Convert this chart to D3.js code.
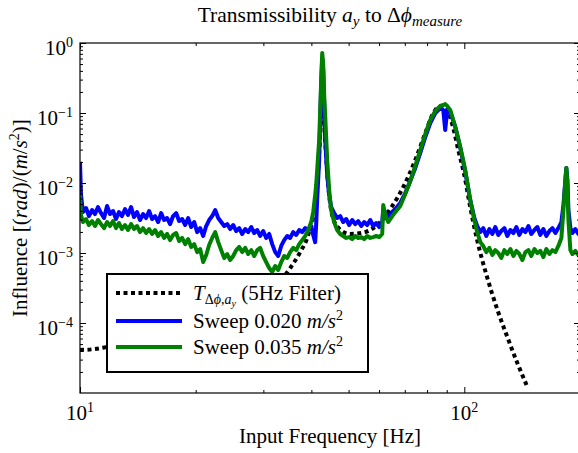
<!DOCTYPE html>
<html>
<head>
<meta charset="utf-8">
<script src="https://cdn.jsdelivr.net/npm/d3@7"></script>
<style>
body { margin: 0; background: #fff; }
#vis { width: 578px; height: 453px; }
text { font-family: "Liberation Serif", "Times New Roman", serif; fill: #000; }
</style>
</head>
<body>
<div id="vis"></div>
<script>
// measurement grid (Hz), shared by both sweeps
var freqs = [10.00, 10.06, 10.18,
    10.37, 10.55, 10.75, 10.94, 11.14, 11.34, 11.55, 11.76, 11.97, 12.19,
    12.41, 12.63, 12.86, 13.10, 13.33, 13.58, 13.82, 14.07, 14.33, 14.59,
    14.86, 15.13, 15.40, 15.68, 15.97, 16.26, 16.55, 16.85, 17.16, 17.47,
    17.79, 18.11, 18.44, 18.78, 19.12, 19.47, 19.82, 20.18, 20.54, 20.92,
    21.30, 21.68, 22.08, 22.48, 22.89, 23.30, 23.73, 24.16, 24.59, 25.04,
    25.50, 25.96, 26.43, 26.91, 27.40, 27.90, 28.40, 28.92, 29.43, 29.97,
    30.51, 31.07, 31.63, 32.21, 32.79, 33.39, 33.99, 34.61, 35.23, 35.87,
    36.53, 37.19, 37.86, 38.55, 39.25, 39.96,
    40.44, 40.92, 41.16, 41.41, 41.91, 42.17, 42.42, 42.68, 42.94, 43.19, 43.45, 43.98, 44.50, 45.03, 45.85,
    46.68, 47.54, 48.40, 49.28, 50.17, 51.08, 52.01, 52.95, 53.92, 54.89, 55.89, 56.91, 57.94, 58.99, 60.06, 61.15,
    61.52, 62.26, 63.38, 64.93, 66.50, 68.13, 70.21, 72.34, 74.55, 76.81, 79.16, 81.55, 84.04, 86.60, 88.16,
    89.19, 90.26, 91.94, 94.74, 97.63, 100.6, 103.6, 106.2, 108.0, 110.1,
    112.0, 114.1, 116.2, 118.3, 120.4, 122.6, 124.8, 127.1, 129.4, 131.8, 134.2, 136.6, 139.1, 141.6,
    144.2, 146.8, 149.4, 152.2, 154.9, 157.7, 160.6, 163.5, 166.5, 169.5, 172.6, 175.7, 178.9,
    181.1, 183.2, 184.3, 185.5, 186.6, 188.8, 191.1, 194.5, 198.1, 200.0];

var sweep020 = [2.00e-2, 6.74e-3, 3.85e-3,
    4.39e-3, 3.37e-3, 4.11e-3, 3.60e-3, 4.54e-3, 3.72e-3, 3.16e-3, 4.69e-3, 3.60e-3, 3.98e-3,
    3.06e-3, 3.85e-3, 3.37e-3, 4.25e-3, 3.49e-3, 4.54e-3, 3.26e-3, 3.85e-3, 2.96e-3, 3.60e-3,
    3.16e-3, 3.98e-3, 3.06e-3, 3.37e-3, 2.77e-3, 3.72e-3, 2.96e-3, 3.16e-3, 2.59e-3, 3.37e-3,
    3.72e-3, 2.86e-3, 3.06e-3, 2.51e-3, 3.16e-3, 2.35e-3, 2.77e-3, 1.99e-3, 2.27e-3, 1.75e-3,
    2.43e-3, 2.96e-3, 3.37e-3, 4.11e-3, 3.16e-3, 2.77e-3, 2.43e-3, 2.59e-3, 2.20e-3, 2.51e-3,
    2.06e-3, 2.27e-3, 1.87e-3, 2.20e-3, 1.99e-3, 2.35e-3, 1.93e-3, 2.13e-3, 1.75e-3, 2.06e-3,
    1.64e-3, 1.87e-3, 1.34e-3, 1.03e-3, 9.06e-4, 1.26e-3, 1.53e-3, 1.75e-3, 1.64e-3, 1.99e-3,
    1.81e-3, 2.13e-3, 1.99e-3, 2.27e-3, 2.13e-3, 2.43e-3,
    1.81e-3, 1.43e-3, 2.51e-3, 5.72e-3, 2.13e-2, 7.94e-2, 0.251, 0.61, 0.411, 0.130, 4.11e-2, 1.30e-2, 6.74e-3, 4.54e-3, 3.72e-3,
    3.16e-3, 3.37e-3, 2.77e-3, 3.06e-3, 2.51e-3, 2.96e-3, 2.59e-3, 2.86e-3, 2.43e-3, 2.77e-3, 2.51e-3, 2.96e-3, 2.43e-3, 2.68e-3, 2.35e-3, 2.77e-3,
    4.11e-3, 3.85e-3, 3.16e-3, 3.85e-3, 4.39e-3, 5.18e-3, 7.19e-3, 1.07e-2, 1.64e-2, 2.70e-2, 4.54e-2, 7.19e-2, 0.100, 0.118, 0.110,
    5.72e-2, 0.110, 0.103, 6.31e-2, 3.16e-2, 1.43e-2, 5.72e-3, 3.16e-3, 2.43e-3, 1.99e-3,
    2.27e-3, 1.75e-3, 2.20e-3, 1.87e-3, 2.35e-3, 1.81e-3, 2.06e-3, 2.27e-3, 1.75e-3, 2.13e-3, 1.93e-3, 2.35e-3, 1.81e-3, 2.20e-3,
    1.99e-3, 2.43e-3, 1.87e-3, 2.13e-3, 2.35e-3, 1.81e-3, 2.20e-3, 1.75e-3, 2.06e-3, 2.27e-3, 1.93e-3, 2.27e-3, 2.77e-3,
    4.85e-3, 1.10e-2, 1.64e-2, 1.10e-2, 4.11e-3, 2.27e-3, 1.93e-3, 2.20e-3, 1.87e-3, 2.06e-3];

var sweep035 = [6.74e-3, 3.49e-3, 2.77e-3,
    3.06e-3, 2.51e-3, 2.86e-3, 2.43e-3, 2.96e-3, 2.59e-3, 2.27e-3, 2.77e-3, 2.43e-3, 2.86e-3,
    2.27e-3, 2.68e-3, 2.20e-3, 2.51e-3, 2.13e-3, 2.59e-3, 2.20e-3, 2.43e-3, 1.99e-3, 2.27e-3,
    1.93e-3, 2.20e-3, 1.87e-3, 2.13e-3, 1.75e-3, 1.99e-3, 1.64e-3, 1.87e-3, 1.53e-3, 1.81e-3,
    1.93e-3, 1.48e-3, 1.64e-3, 1.34e-3, 1.58e-3, 1.22e-3, 1.34e-3, 1.03e-3, 1.14e-3, 7.43e-4,
    9.36e-4, 1.30e-3, 1.64e-3, 1.99e-3, 1.43e-3, 1.10e-3, 8.48e-4, 9.67e-4, 7.94e-4, 9.06e-4,
    1.10e-3, 1.22e-3, 1.03e-3, 1.18e-3, 9.67e-4, 1.10e-3, 9.06e-4, 1.10e-3, 1.18e-3, 9.06e-4,
    7.43e-4, 6.10e-4, 5.35e-4, 6.52e-4, 5.72e-4, 7.43e-4, 9.06e-4, 8.48e-4, 1.03e-3, 1.18e-3,
    1.10e-3, 1.34e-3, 1.53e-3, 1.75e-3, 2.13e-3, 2.77e-3,
    3.85e-3, 6.74e-3, 9.36e-3, 1.53e-2, 4.11e-2, 0.110, 0.296, 0.72, 0.485, 0.181, 0.0937, 2.13e-2, 7.94e-3, 4.11e-3, 2.77e-3,
    2.13e-3, 1.87e-3, 1.75e-3, 1.64e-3, 1.69e-3, 1.58e-3, 1.75e-3, 1.64e-3, 1.69e-3, 1.58e-3, 1.75e-3, 1.64e-3, 1.69e-3, 1.75e-3, 1.69e-3, 1.87e-3,
    4.85e-3, 3.49e-3, 2.77e-3, 3.37e-3, 3.98e-3, 4.69e-3, 6.96e-3, 1.07e-2, 1.75e-2, 2.96e-2, 5.01e-2, 7.94e-2, 0.107, 0.126, 0.130,
    0.134, 0.126, 0.110, 6.31e-2, 3.26e-2, 1.53e-2, 5.72e-3, 2.96e-3, 1.99e-3, 1.43e-3,
    1.26e-3, 1.03e-3, 1.18e-3, 9.36e-4, 1.10e-3, 1.00e-3, 8.48e-4, 1.10e-3, 9.67e-4, 1.14e-3, 9.06e-4, 1.07e-3, 9.67e-4, 7.94e-4,
    1.03e-3, 1.10e-3, 9.06e-4, 1.14e-3, 1.00e-3, 1.07e-3, 8.76e-4, 1.14e-3, 9.67e-4, 1.10e-3, 1.03e-3, 1.26e-3, 1.64e-3,
    4.11e-3, 1.10e-2, 1.64e-2, 9.36e-3, 2.96e-3, 1.10e-3, 9.67e-4, 1.07e-3, 9.36e-4, 1.03e-3];

// 5 Hz filter model
var filterFreqs = [10.0, 10.94, 11.76, 15.22, 20.54, 26.10, 31.25, 35.23, 37.41, 39.25,
    40.68, 41.66, 42.42, 42.94, 43.45, 44.24, 45.30, 47.11, 50.48, 55.22,
    60.43, 64.93, 69.37, 74.55, 79.16, 82.56, 85.57, 88.16, 90.80, 93.60,
    96.45, 100.0, 103.6, 108.0, 114.6, 122.0, 129.4, 137.4, 145.9];
var filterVals = [4.11e-5, 4.25e-5, 4.54e-5, 5.72e-5, 8.48e-5, 1.44e-4, 2.77e-4, 6.10e-4, 1.03e-3, 1.81e-3,
    4.11e-3, 1.53e-2, 7.94e-2, 0.130, 4.11e-2, 9.36e-3, 3.49e-3, 2.27e-3, 1.87e-3, 1.99e-3,
    2.77e-3, 4.69e-3, 8.76e-3, 2.13e-2, 5.18e-2, 9.37e-2, 0.122, 0.126, 0.103, 6.10e-2,
    2.96e-2, 1.30e-2, 4.54e-3, 1.53e-3, 4.54e-4, 1.53e-4, 6.31e-5, 2.68e-5, 1.22e-5];

var xMajor = [10, 100];
var xMinor = [20, 30, 40, 50, 60, 70, 80, 90, 200];
var yMajor = [1e-4, 1e-3, 1e-2, 1e-1, 1];
var yMinor = [];
[1e-5, 1e-4, 1e-3, 1e-2, 1e-1].forEach(function(d) {
    for (var k = 2; k <= 9; k++) yMinor.push(d * k);
});

var margin = { top: 43, left: 80 };
var width = 500, height = 350;

var svg = d3.select('#vis')
    .append('svg')
    .attr('width', 578)
    .attr('height', 453);

var g = svg.append('g')
    .attr('transform', 'translate(' + margin.left + ',' + margin.top + ')');

var x_scale = d3.scaleLog().domain([10, 200]).range([0, width]);
var y_scale = d3.scaleLog().domain([1e-5, 1]).range([height, 0]);

g.append('clipPath').attr('id', 'clip')
    .append('rect').attr('width', width).attr('height', height);

var line = d3.line()
    .x(function(d) { return x_scale(d[0]); })
    .y(function(d) { return y_scale(d[1]); });

var plot = g.append('g').attr('clip-path', 'url(#clip)');

plot.append('path')
    .datum(d3.zip(filterFreqs, filterVals))
    .attr('d', line.curve(d3.curveMonotoneX))
    .attr('fill', 'none')
    .attr('stroke', '#000')
    .attr('stroke-width', 4)
    .attr('stroke-dasharray', '4,3.5');

line.curve(d3.curveLinear);

plot.append('path')
    .datum(d3.zip(freqs, sweep020))
    .attr('d', line)
    .attr('fill', 'none')
    .attr('stroke', '#0000ff')
    .attr('stroke-width', 4)
    .attr('stroke-linejoin', 'round');

plot.append('path')
    .datum(d3.zip(freqs, sweep035))
    .attr('d', line)
    .attr('fill', 'none')
    .attr('stroke', '#008000')
    .attr('stroke-width', 4)
    .attr('stroke-linejoin', 'round');

// ticks on all four sides, pointing inward
function addAxis(axis, tx, ty) {
    var a = g.append('g')
        .attr('transform', 'translate(' + tx + ',' + ty + ')')
        .call(axis);
    a.select('.domain').remove();
    a.selectAll('text').remove();
    a.selectAll('line').attr('stroke', '#000').attr('stroke-width', 1);
}
addAxis(d3.axisBottom(x_scale).tickValues(xMajor).tickSize(-6), 0, height);
addAxis(d3.axisBottom(x_scale).tickValues(xMinor).tickSize(-3), 0, height);
addAxis(d3.axisTop(x_scale).tickValues(xMajor).tickSize(-6), 0, 0);
addAxis(d3.axisTop(x_scale).tickValues(xMinor).tickSize(-3), 0, 0);
addAxis(d3.axisLeft(y_scale).tickValues(yMajor).tickSize(-6), 0, 0);
addAxis(d3.axisLeft(y_scale).tickValues(yMinor).tickSize(-3), 0, 0);
addAxis(d3.axisRight(y_scale).tickValues(yMajor).tickSize(-6), width, 0);
addAxis(d3.axisRight(y_scale).tickValues(yMinor).tickSize(-3), width, 0);

g.append('rect')
    .attr('width', width)
    .attr('height', height)
    .attr('fill', 'none')
    .attr('stroke', '#000')
    .attr('stroke-width', 1.2);

function powLabel(t, exp) {
    t.append('tspan').text('10');
    t.append('tspan').attr('dy', -8).attr('font-size', 14)
        .text(exp < 0 ? '\u2212' + (-exp) : String(exp));
}

xMajor.forEach(function(v) {
    var t = g.append('text')
        .attr('x', x_scale(v))
        .attr('y', height + 27)
        .attr('text-anchor', 'middle')
        .attr('font-size', 21);
    powLabel(t, Math.round(Math.log10(v)));
});

yMajor.forEach(function(v) {
    var t = g.append('text')
        .attr('x', -7)
        .attr('y', y_scale(v) + 12)
        .attr('text-anchor', 'end')
        .attr('font-size', 21);
    powLabel(t, Math.round(Math.log10(v)));
});

// title
var title = svg.append('text')
    .attr('x', 330)
    .attr('y', 22)
    .attr('text-anchor', 'middle')
    .attr('font-size', 21.5);
title.append('tspan').text('Transmissibility ');
title.append('tspan').attr('font-style', 'italic').text('a');
title.append('tspan').attr('font-style', 'italic').attr('font-size', 15).attr('dy', 4).text('y');
title.append('tspan').attr('dy', -4).text(' to \u0394');
title.append('tspan').attr('font-style', 'italic').text('\u03d5');
title.append('tspan').attr('font-style', 'italic').attr('font-size', 15).attr('dy', 4).text('measure');

// axis labels
svg.append('text')
    .attr('x', 330)
    .attr('y', 443)
    .attr('text-anchor', 'middle')
    .attr('font-size', 21)
    .text('Input Frequency [Hz]');

var ylab = svg.append('text')
    .attr('transform', 'translate(27,218) rotate(-90)')
    .attr('text-anchor', 'middle')
    .attr('font-size', 21);
ylab.append('tspan').text('Influence [(');
ylab.append('tspan').attr('font-style', 'italic').text('rad');
ylab.append('tspan').text(')/(');
ylab.append('tspan').attr('font-style', 'italic').text('m');
ylab.append('tspan').text('/');
ylab.append('tspan').attr('font-style', 'italic').text('s');
ylab.append('tspan').attr('font-size', 14).attr('dy', -8).text('2');
ylab.append('tspan').attr('dy', 8).text(')]');

// legend
var legend = svg.append('g').attr('transform', 'translate(107,274)');
legend.append('rect')
    .attr('width', 261)
    .attr('height', 98)
    .attr('fill', '#fff')
    .attr('stroke', '#000')
    .attr('stroke-width', 2);

var rows = [19, 47, 73];
legend.append('line')
    .attr('x1', 9).attr('x2', 75).attr('y1', rows[0]).attr('y2', rows[0])
    .attr('stroke', '#000').attr('stroke-width', 4).attr('stroke-dasharray', '4,3.5');
legend.append('line')
    .attr('x1', 9).attr('x2', 75).attr('y1', rows[1]).attr('y2', rows[1])
    .attr('stroke', '#0000ff').attr('stroke-width', 4);
legend.append('line')
    .attr('x1', 9).attr('x2', 75).attr('y1', rows[2]).attr('y2', rows[2])
    .attr('stroke', '#008000').attr('stroke-width', 4);

var l1 = legend.append('text').attr('x', 86).attr('y', rows[0] + 7).attr('font-size', 21);
l1.append('tspan').attr('font-style', 'italic').text('T');
l1.append('tspan').attr('font-size', 14).attr('dy', 4).text('\u0394');
l1.append('tspan').attr('font-size', 14).attr('font-style', 'italic').text('\u03d5');
l1.append('tspan').attr('font-size', 14).text(',');
l1.append('tspan').attr('font-size', 14).attr('font-style', 'italic').text('a');
l1.append('tspan').attr('font-size', 10).attr('font-style', 'italic').attr('dy', 3).text('y');
l1.append('tspan').attr('dy', -7).text(' (5Hz Filter)');

[['Sweep 0.020 ', rows[1]], ['Sweep 0.035 ', rows[2]]].forEach(function(r) {
    var t = legend.append('text').attr('x', 86).attr('y', r[1] + 7).attr('font-size', 21);
    t.append('tspan').text(r[0]);
    t.append('tspan').attr('font-style', 'italic').text('m/s');
    t.append('tspan').attr('font-size', 14).attr('dy', -8).text('2');
});
</script>
</body>
</html>
